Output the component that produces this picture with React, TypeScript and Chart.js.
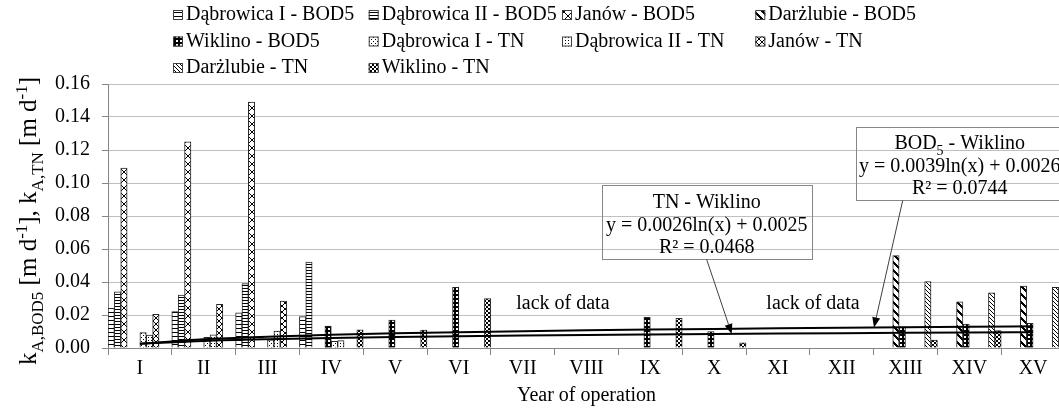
import React, { useEffect, useRef } from 'react';
import { Chart, registerables } from 'chart.js';
Chart.register(...registerables);

const FONT = '"Liberation Serif", "Times New Roman", serif';

const categories = ['I', 'II', 'III', 'IV', 'V', 'VI', 'VII', 'VIII', 'IX', 'X', 'XI', 'XII', 'XIII', 'XIV', 'XV'];
const yTicks = [0, 0.02, 0.04, 0.06, 0.08, 0.1, 0.12, 0.14, 0.16];

const dabI_BOD5 = [0.024, 0.022, 0.0213, 0.019, null, null, null, null, null, null, null, null, null, null, null];
const dabII_BOD5 = [0.034, 0.032, 0.039, 0.052, null, null, null, null, null, null, null, null, null, null, null];
const janow_BOD5 = [0.109, 0.125, 0.149, null, null, null, null, null, null, null, null, null, null, null, null];
const darz_BOD5 = [null, null, null, null, null, null, null, null, null, null, null, null, 0.056, 0.028, 0.0376];
const wik_BOD5 = [null, null, null, 0.0133, 0.0169, 0.0367, null, null, 0.0186, 0.0099, null, null, 0.0129, 0.0145, 0.015];
const dabI_TN = [0.0093, 0.0065, 0.005, 0.004, null, null, null, null, null, null, null, null, null, null, null];
const dabII_TN = [0.0078, 0.008, 0.0103, 0.0045, null, null, null, null, null, null, null, null, null, null, null];
const janow_TN = [0.0204, 0.0265, 0.0284, null, null, null, null, null, null, null, null, null, null, null, null];
const darz_TN = [null, null, null, null, null, null, null, null, null, null, null, null, 0.0402, 0.0335, 0.0368];
const wik_TN = [null, null, null, 0.011, 0.0109, 0.03, null, null, 0.018, 0.0032, null, null, 0.0048, 0.0105, null];

// logarithmic trend lines as printed: TN y = 0.0026ln(x)+0.0025 ; BOD5 y = 0.0039ln(x)+0.0026
const trend_TN = [0.0025, 0.0043, 0.00536, 0.0061, 0.00668, 0.00716, 0.00756, 0.00791, 0.00821, 0.00849, 0.00873, 0.00896, 0.00917, 0.00936, 0.00954];
const trend_BOD5 = [0.0026, 0.0053, 0.00688, 0.00801, 0.00888, 0.00959, 0.01019, 0.01071, 0.01117, 0.01158, 0.01195, 0.01229, 0.0126, 0.01289, 0.01316];
const tnCoef = [0.0026, 0.0025];
const bodCoef = [0.0039, 0.0026];

const seriesLabels = [
  'Dąbrowica I - BOD5', 'Dąbrowica II - BOD5', 'Janów - BOD5', 'Darżlubie - BOD5', 'Wiklino - BOD5',
  'Dąbrowica I - TN', 'Dąbrowica II - TN', 'Janów - TN', 'Darżlubie - TN', 'Wiklino - TN',
];
const seriesData = [dabI_BOD5, dabII_BOD5, janow_BOD5, darz_BOD5, wik_BOD5, dabI_TN, dabII_TN, janow_TN, darz_TN, wik_TN];
const seriesPatterns = ['hSparse', 'hDense', 'lattice8', 'thickDiag', 'darkChecker', 'dotsSparse', 'dotsDense', 'lattice6', 'thinDiag', 'lightChecker'];

function makePattern(kind: string): CanvasPattern {
  const c = document.createElement('canvas');
  let s = 4;
  if (kind === 'lattice8' || kind === 'thickDiag') s = 8;
  if (kind === 'lattice6') s = 6;
  if (kind === 'hDense') s = 3;
  if (kind === 'dotsDense') s = 3;
  c.width = s; c.height = s;
  const g = c.getContext('2d')!;
  g.fillStyle = '#ffffff';
  g.fillRect(0, 0, s, s);
  g.fillStyle = '#000000';
  const px = (x: number, y: number) => g.fillRect(((x % s) + s) % s, ((y % s) + s) % s, 1, 1);
  switch (kind) {
    case 'hSparse': g.fillRect(0, 0, s, 1); break;
    case 'hDense': g.fillRect(0, 0, s, 1); break;
    case 'lattice8':
    case 'lattice6':
      for (let i = 0; i < s; i++) { px(i, i); px(i, s - 1 - i); }
      break;
    case 'thickDiag':
      for (let i = 0; i < s; i++) { px(i, i); px(i, i + 1); px(i, i + 2); }
      break;
    case 'thinDiag':
      for (let i = 0; i < s; i++) px(i, i);
      break;
    case 'darkChecker':
      g.fillRect(0, 0, s, s);
      g.fillStyle = '#ffffff';
      g.fillRect(0, 0, 2, 2);
      break;
    case 'lightChecker':
      g.fillRect(0, 0, 2, 2); g.fillRect(2, 2, 2, 2);
      break;
    case 'dotsSparse': px(1, 1); px(3, 3); break;
    case 'dotsDense': px(1, 1); break;
  }
  const p = g.createPattern(c, 'repeat')!;
  return p;
}

type Part = { t: string; sub?: boolean; sup?: boolean };

function drawRich(ctx: CanvasRenderingContext2D, parts: Part[], x: number, y: number, size: number, small: number, align: 'center' | 'left') {
  const widths = parts.map(p => {
    ctx.font = `${p.sub || p.sup ? small : size}px ${FONT}`;
    return ctx.measureText(p.t).width;
  });
  const total = widths.reduce((a, b) => a + b, 0);
  let cx = align === 'center' ? x - total / 2 : x;
  ctx.textAlign = 'left';
  ctx.textBaseline = 'alphabetic';
  parts.forEach((p, i) => {
    ctx.font = `${p.sub || p.sup ? small : size}px ${FONT}`;
    const dy = p.sub ? size * 0.28 : p.sup ? -size * 0.38 : 0;
    ctx.fillText(p.t, cx, y + dy);
    cx += widths[i];
  });
}

const annotations = [
  {
    lines: [[{ t: 'TN - Wiklino' }], [{ t: 'y = 0.0026ln(x) + 0.0025' }], [{ t: 'R² = 0.0468' }]] as Part[][],
    left: 7.238, right: 10.53, top: 0.0985, bottom: 0.0536, anchor: 8.884, tipYear: 10.276, coef: tnCoef,
  },
  {
    lines: [[{ t: 'BOD' }, { t: '5', sub: true }, { t: ' - Wiklino' }], [{ t: 'y = 0.0039ln(x) + 0.0026' }], [{ t: 'R² = 0.0744' }]] as Part[][],
    left: 11.219, right: 14.48, top: 0.1337, bottom: 0.0894, anchor: 11.956, tipYear: 12.506, coef: bodCoef,
  },
];
const lackLabels = [{ x: 6.63, y: 0.0266 }, { x: 10.55, y: 0.0266 }];

const legendCols = [186, 381.7, 575, 768.3];
const legendRows = [15, 41.5, 68];

export default function App() {
  const ref = useRef<HTMLCanvasElement>(null);
  useEffect(() => {
    const canvas = ref.current!;
    const patterns = seriesPatterns.map(makePattern);

    const overlay = {
      id: 'overlay',
      afterDraw(chart: any) {
        const ctx: CanvasRenderingContext2D = chart.ctx;
        const xs = chart.scales.x, ys = chart.scales.y;
        const X = (i: number) => xs.getPixelForValue(i);
        const Y = (v: number) => ys.getPixelForValue(v);
        ctx.save();
        ctx.fillStyle = '#000';

        // legend
        seriesLabels.forEach((lab, i) => {
          const col = i % 4, row = Math.floor(i / 4);
          const tx = legendCols[col], ty = legendRows[row];
          ctx.fillStyle = patterns[i];
          ctx.fillRect(tx - 13, ty - 5, 10, 10);
          ctx.strokeStyle = '#404040';
          ctx.lineWidth = 1;
          ctx.strokeRect(tx - 12.5, ty - 4.5, 9, 9);
          ctx.fillStyle = '#000';
          ctx.font = `20px ${FONT}`;
          ctx.textAlign = 'left';
          ctx.textBaseline = 'middle';
          ctx.fillText(lab, tx, ty);
        });

        // y title
        ctx.save();
        ctx.translate(36, (chart.chartArea.top + chart.chartArea.bottom) / 2 + 5);
        ctx.rotate(-Math.PI / 2);
        ctx.fillStyle = '#000';
        drawRich(ctx, [
          { t: 'k' }, { t: 'A,BOD5', sub: true }, { t: ' [m d' }, { t: '-1', sup: true }, { t: '], k' },
          { t: 'A,TN', sub: true }, { t: ' [m d' }, { t: '-1', sup: true }, { t: ']' },
        ], 0, 0, 25, 17, 'center');
        ctx.restore();

        // x title
        ctx.font = `20px ${FONT}`;
        ctx.textAlign = 'center';
        ctx.textBaseline = 'middle';
        ctx.fillStyle = '#000';
        ctx.fillText('Year of operation', (X(0) + X(14)) / 2, 396);

        // lack of data
        lackLabels.forEach(l => {
          ctx.font = `20px ${FONT}`;
          ctx.textAlign = 'center';
          ctx.textBaseline = 'middle';
          ctx.fillText('lack of data', X(l.x), Y(l.y));
        });

        // annotation boxes
        annotations.forEach(a => {
          const l = X(a.left), r = X(a.right), t = Y(a.top), b = Y(a.bottom);
          ctx.strokeStyle = '#868686';
          ctx.lineWidth = 1;
          ctx.strokeRect(Math.round(l) + 0.5, Math.round(t) + 0.5, Math.round(r - l), Math.round(b - t));
          const cx = (l + r) / 2, cy = (t + b) / 2 + 1;
          a.lines.forEach((ln, k) => {
            ctx.fillStyle = '#000';
            drawRich(ctx, ln, cx, cy + (k - 1) * 22.5 + 7, 20, 14, 'center');
          });
          // leader + arrow
          const sx = X(a.anchor), sy = b;
          const tx = X(a.tipYear - 1), ty = Y(a.coef[0] * Math.log(a.tipYear) + a.coef[1]);
          const ang = Math.atan2(ty - sy, tx - sx);
          const L = 10, W = 4;
          const bx = tx - L * Math.cos(ang), by = ty - L * Math.sin(ang);
          ctx.strokeStyle = '#404040';
          ctx.lineWidth = 1;
          ctx.beginPath();
          ctx.moveTo(sx, sy);
          ctx.lineTo(bx, by);
          ctx.stroke();
          ctx.fillStyle = '#000';
          ctx.beginPath();
          ctx.moveTo(tx, ty);
          ctx.lineTo(bx + W * Math.sin(ang), by - W * Math.cos(ang));
          ctx.lineTo(bx - W * Math.sin(ang), by + W * Math.cos(ang));
          ctx.closePath();
          ctx.fill();
        });
        ctx.restore();
      },
    };

    const datasets: any[] = seriesData.map((d, i) => ({
      type: 'bar',
      label: seriesLabels[i],
      data: d,
      backgroundColor: patterns[i],
      borderColor: '#262626',
      borderWidth: 1,
      categoryPercentage: 1,
      barPercentage: 1,
      order: 2,
    }));
    datasets.push({
      type: 'line', label: 'TN trend', data: trend_TN, borderColor: '#000', borderWidth: 2,
      pointRadius: 0, cubicInterpolationMode: 'monotone', order: 0,
    });
    datasets.push({
      type: 'line', label: 'BOD5 trend', data: trend_BOD5, borderColor: '#000', borderWidth: 2,
      pointRadius: 0, cubicInterpolationMode: 'monotone', order: 0,
    });

    const chart = new Chart(canvas, {
      type: 'bar',
      data: { labels: categories, datasets },
      options: {
        responsive: false,
        animation: false,
        devicePixelRatio: 1,
        layout: { padding: { top: 84, left: 0, right: 0, bottom: 0 } },
        plugins: { legend: { display: false }, tooltip: { enabled: false }, title: { display: false } },
        scales: {
          x: {
            offset: true,
            grid: { offset: true, drawOnChartArea: false, color: '#868686', tickLength: 7 },
            border: { color: '#868686' },
            ticks: { font: { family: FONT, size: 20 }, color: '#000', padding: 2, maxRotation: 0, autoSkip: false },
            afterFit: (s: any) => { s.height = 60; },
          },
          y: {
            min: 0, max: 0.16,
            afterBuildTicks: (s: any) => { s.ticks = yTicks.map(v => ({ value: v })); },
            ticks: { font: { family: FONT, size: 20 }, color: '#000', padding: 12, callback: (v: any) => Number(v).toFixed(2) },
            grid: { color: '#bfbfbf', tickColor: '#868686', tickLength: 6 },
            border: { color: '#868686' },
            afterFit: (s: any) => { s.width = 108; },
          },
        },
      } as any,
      plugins: [overlay],
    });
    return () => chart.destroy();
  }, []);

  return (
    <div style={{ position: 'absolute', left: 0, top: 0, width: 1059, height: 408, overflow: 'hidden', background: '#fff' }}>
      <canvas ref={ref} width={1065} height={408} style={{ display: 'block', width: 1065, height: 408 }} />
    </div>
  );
}
